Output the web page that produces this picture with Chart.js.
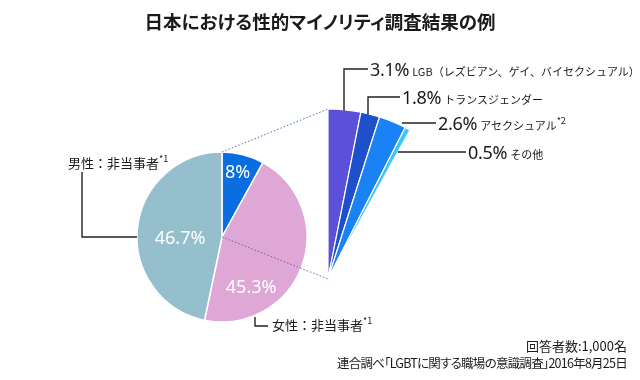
<!DOCTYPE html>
<html><head><meta charset="utf-8">
<script src="https://cdn.jsdelivr.net/npm/chart.js@4.4.1/dist/chart.umd.min.js"></script>
<style>
html,body{margin:0;padding:0;background:#fff}
#wrap{position:relative;width:640px;height:380px;overflow:hidden;font-family:"Noto Sans CJK JP","Noto Sans",sans-serif;color:#1a1a1a}
canvas{position:absolute;left:0;top:0}
.t{position:absolute;white-space:nowrap;line-height:1;transform:translateY(-50%)}
.num{font-family:"Noto Sans","Noto Sans CJK JP",sans-serif;font-size:18px;letter-spacing:-0.3px}
.lab{font-size:11px;margin-left:3px}
.sup{font-size:9px;position:relative;top:-6px}
.jp{font-size:13px}
.foot{right:13px;transform:translateY(-50%)}
</style></head>
<body><div id="wrap">
<canvas id="pie" width="640" height="380"></canvas>
<canvas id="fan" width="640" height="380"></canvas>
<div class="t" style="left:0;width:640px;text-align:center;top:21px;font-size:18.5px;font-weight:bold;font-feature-settings:'palt'">日本における性的マイノリティ調査結果の例</div>
<div class="t jp" style="left:68px;top:162px">男性：非当事者<span class="sup">*1</span></div>
<div class="t jp" style="left:272px;top:324px">女性：非当事者<span class="sup">*1</span></div>
<div class="t foot" style="top:345px;font-size:13px">回答者数:1,000名</div>
<div class="t foot" style="top:363px;font-size:12.5px;font-feature-settings:'palt';letter-spacing:-0.75px">連合調べ「LGBTに関する職場の意識調査」2016年8月25日</div>
<div id="fanLabels"></div>
</div>
<script>
// ---- data ----
const mainCategories = ['LGBT等', '女性：非当事者', '男性：非当事者'];
const mainValues = [8, 45.3, 46.7];
const fanCategories = ['LGB（レズビアン、ゲイ、バイセクシュアル）', 'トランスジェンダー', 'アセクシュアル', 'その他'];
const fanValues = [3.1, 1.8, 2.6, 0.5];
const fanNotes = ['', '', '*2', ''];

// ---- styling / layout ----
const mainColors = ['#0a6ee0', '#dea7d6', '#95bfcc'];
const fanColors = ['#5a50d9', '#1e50c9', '#1a82f4', '#3cc6f2'];
const pieCenter = [222, 237], pieRadius = 85;
const fanCenter = [328, 279], fanRadius = 170;
const pieLabelPolar = [[13.6, 66], [150.4, 59], [267, 42]];
const fanLabelPos = [[370, 69], [402, 97], [438, 123], [468, 152]];
const fmt = v => v + '%';

function centerAt(chart, tx, ty) {
  const a = chart.getDatasetMeta(0).data[0];
  const dx = tx - a.x, dy = ty - a.y;
  chart.options.layout.padding = {
    left: Math.max(0, 2 * dx), right: Math.max(0, -2 * dx),
    top: Math.max(0, 2 * dy), bottom: Math.max(0, -2 * dy)
  };
  chart.update('none');
}

const pieLabelPlugin = {
  id: 'pieLabels',
  afterDatasetsDraw(chart) {
    const ctx = chart.ctx;
    const arcs = chart.getDatasetMeta(0).data;
    ctx.save();
    ctx.fillStyle = '#fff';
    ctx.font = '18px "Noto Sans", sans-serif';
    ctx.textAlign = 'center';
    ctx.textBaseline = 'middle';
    arcs.forEach((a, i) => {
      const [deg, d] = pieLabelPolar[i];
      const r = deg * Math.PI / 180;
      ctx.fillText(fmt(mainValues[i]), a.x + d * Math.sin(r), a.y - d * Math.cos(r));
    });
    ctx.restore();
  }
};

const pieChart = new Chart(document.getElementById('pie'), {
  type: 'pie',
  data: { labels: mainCategories, datasets: [{ data: mainValues, backgroundColor: mainColors, borderColor: '#fff', borderWidth: 1.5 }] },
  options: {
    responsive: false, animation: false, events: [], radius: pieRadius,
    layout: { padding: { left: 0, right: 0, top: 0, bottom: 0 } },
    plugins: { legend: { display: false }, tooltip: { enabled: false } }
  },
  plugins: [pieLabelPlugin]
});
centerAt(pieChart, pieCenter[0], pieCenter[1]);

const linesPlugin = {
  id: 'connectors',
  afterDraw(chart) {
    const ctx = chart.ctx;
    const p = pieChart.getDatasetMeta(0).data[0];
    const fanArcs = chart.getDatasetMeta(0).data;
    const f0 = fanArcs[0];
    const fx = f0.x, fy = f0.y, R = f0.outerRadius;
    ctx.save();
    // dotted connectors
    ctx.strokeStyle = '#4272bd';
    ctx.lineWidth = 1;
    ctx.setLineDash([1.5, 2]);
    ctx.beginPath();
    ctx.moveTo(p.x + p.outerRadius * Math.cos(p.startAngle), p.y + p.outerRadius * Math.sin(p.startAngle));
    ctx.lineTo(fx + R * Math.cos(f0.startAngle), fy + R * Math.sin(f0.startAngle));
    ctx.moveTo(p.x, p.y);
    ctx.lineTo(fx, fy);
    ctx.stroke();
    ctx.setLineDash([]);
    // leader lines
    ctx.strokeStyle = '#222';
    ctx.lineWidth = 1.4;
    const arcY = x => fy - Math.sqrt(R * R - (x - fx) * (x - fx));
    const edgeX = y => fx + (fy - y) * Math.tan(fanArcs[fanArcs.length - 1].endAngle + Math.PI / 2);
    const paths = [
      [[344, arcY(344) + 1], [344, 69], [368, 69]],
      [[368, arcY(368) + 1], [368, 97], [400, 97]],
      [[402, 123], [436, 123]],
      [[edgeX(152), 152], [466, 152]],
      [[82, 172], [82, 237], [p.x - p.outerRadius, 237]],
      [[255, 317], [255, 326], [268, 326]]
    ];
    paths.forEach(pts => {
      ctx.beginPath();
      pts.forEach((q, i) => i ? ctx.lineTo(q[0], q[1]) : ctx.moveTo(q[0], q[1]));
      ctx.stroke();
    });
    ctx.restore();
  }
};

const fanChart = new Chart(document.getElementById('fan'), {
  type: 'pie',
  data: { labels: fanCategories, datasets: [{ data: fanValues, backgroundColor: fanColors, borderColor: '#fff', borderWidth: 1.2 }] },
  options: {
    responsive: false, animation: false, events: [], radius: fanRadius,
    rotation: 0, circumference: mainValues[0] * 3.6,
    layout: { padding: { left: 0, right: 0, top: 0, bottom: 0 } },
    plugins: { legend: { display: false }, tooltip: { enabled: false } }
  },
  plugins: [linesPlugin]
});
centerAt(fanChart, fanCenter[0], fanCenter[1]);

// fan labels as text
const holder = document.getElementById('fanLabels');
fanValues.forEach((v, i) => {
  const [x, y] = fanLabelPos[i];
  const d = document.createElement('div');
  d.className = 't';
  d.style.left = x + 'px';
  d.style.top = y + 'px';
  d.innerHTML = '<span class="num">' + fmt(v) + '</span><span class="lab">' + fanCategories[i] + '</span>' +
    (fanNotes[i] ? '<span class="sup">' + fanNotes[i] + '</span>' : '');
  holder.appendChild(d);
});
</script>
</body></html>
